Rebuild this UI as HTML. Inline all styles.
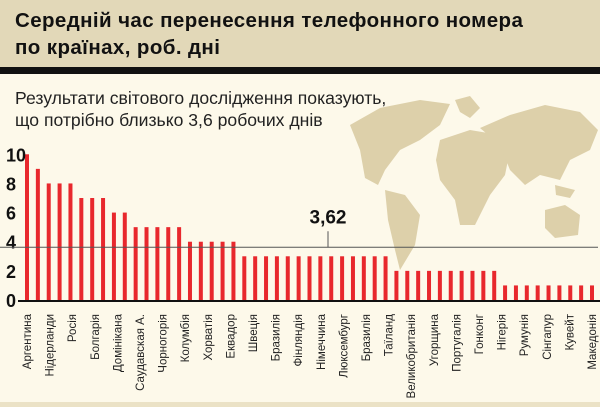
<!DOCTYPE html>
<html><head><meta charset="utf-8"><style>
body{margin:0}
#c{position:relative;width:600px;height:407px;background:#fdf9ea;overflow:hidden;font-family:"Liberation Sans",sans-serif}
</style></head><body>
<div id="c">
<svg width="600" height="407" style="position:absolute;left:0;top:0" id="svg">
<rect x="0" y="0" width="600" height="68" fill="#e2d8b8"/>
<rect x="0" y="67" width="600" height="7" fill="#111"/>
<rect x="0" y="402" width="600" height="5" fill="#ebe2c6"/>
<text x="15" y="27" font-size="20.5" font-weight="bold" fill="#111" letter-spacing="0.4">Середній час перенесення телефонного номера</text>
<text x="15" y="54" font-size="20.5" font-weight="bold" fill="#111" letter-spacing="0.4">по країнах, роб. дні</text>
<text x="15" y="104" font-size="17.6" fill="#222">Результати світового дослідження показують,</text>
<text x="15" y="126" font-size="17.6" fill="#222">що потрібно близько 3,6 робочих днів</text>
<g fill="#ddd0aa">
<path d="M350,125 L380,108 L420,100 L450,104 L440,125 L420,140 L400,150 L385,170 L378,185 L365,178 L360,150 Z"/>
<path d="M455,100 L470,96 L480,108 L470,118 L460,112 Z"/>
<path d="M385,190 L405,195 L420,215 L415,245 L400,270 L395,250 L388,220 Z"/>
<path d="M440,140 L470,130 L500,135 L510,150 L505,175 L490,195 L475,225 L460,225 L455,200 L440,180 L436,160 Z"/>
<path d="M480,128 L510,115 L545,105 L580,112 L598,130 L590,150 L570,160 L560,180 L540,175 L525,185 L510,170 L500,145 Z"/>
<path d="M545,210 L565,205 L580,215 L578,235 L555,238 L545,228 Z"/>
<path d="M555,185 L575,190 L570,198 L556,195 Z"/>
</g>
<g id="bars"></g>
<g id="axis"></g>
</svg>
</div>
<script>
const countries=["Аргентина","Нідерланди","Росія","Болгарія","Домінікана","Саудавская А.","Чорногорія","Колумбія","Хорватія","Еквадор","Швеція","Бразилія","Фінляндія","Німеччина","Люксембург","Бразилія","Таїланд","Великобританія","Угорщина","Португалія","Гонконг","Нігерія","Румунія","Сінгапур","Кувейт","Македонія"];
const values=[10,9,8,8,8,7,7,7,6,6,5,5,5,5,5,4,4,4,4,4,3,3,3,3,3,3,3,3,3,3,3,3,3,3,2,2,2,2,2,2,2,2,2,2,1,1,1,1,1,1,1,1,1];
const yTicks=[0,2,4,6,8,10];
const average=3.62;
const averageLabel="3,62";
const NS="http://www.w3.org/2000/svg";
const y0=300,y10=154.3;
function yScale(v){return y0-(y0-y10)*v/10;}
function xBar(i){return 27+i*(565/(values.length-1));}
function xLabel(i){return 27+i*(565/(countries.length-1));}
const bars=document.getElementById('bars'),axis=document.getElementById('axis');
function mk(t,a,p){const e=document.createElementNS(NS,t);for(const k in a)e.setAttribute(k,a[k]);p.appendChild(e);return e;}
values.forEach((v,i)=>{
 const r=mk('rect',{x:xBar(i)-2,y:yScale(v),width:4,height:y0-yScale(v),fill:'#e8282d'},bars);
 
 
});
yTicks.forEach(t=>{
 const e=mk('text',{x:6,y:yScale(t)+7,'font-size':18,'font-weight':'bold',fill:'#111'},axis);
 e.textContent=t;
 
 
});
const base=mk('line',{x1:18,x2:600,y1:y0+1,y2:y0+1,stroke:'#111','stroke-width':2},axis);


const ay=yScale(average);
const al=mk('line',{x1:0,x2:598,y1:ay,y2:ay,stroke:'#555','stroke-width':1},axis);


const ax=328;
const tk=mk('line',{x1:ax,x2:ax,y1:ay-16,y2:ay,stroke:'#555','stroke-width':1},axis);


const at=mk('text',{x:ax,y:ay-24,'font-size':19,'font-weight':'bold',fill:'#111','text-anchor':'middle'},axis);
at.textContent=averageLabel;


countries.forEach((c,i)=>{
 const x=xLabel(i)+4;
 const e=mk('text',{x:x,y:314,'font-size':11.5,fill:'#222','text-anchor':'end',transform:`rotate(-90 ${x} 314)`,'font-family':'"Liberation Sans Narrow","Liberation Sans",sans-serif'},axis);
 e.textContent=c;
 
 
});
</script>
</body></html>
